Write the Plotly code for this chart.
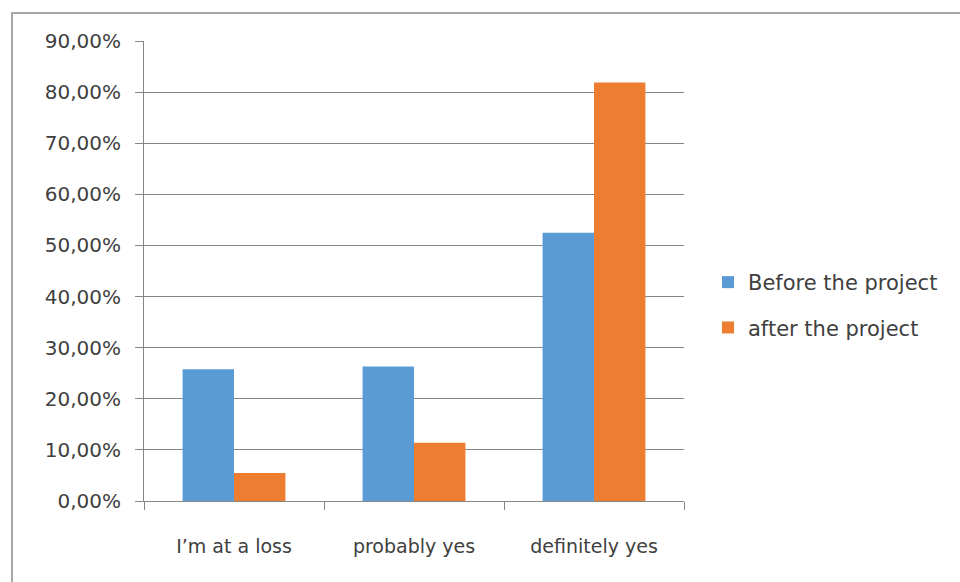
import plotly.graph_objects as go

# Survey answers, share of respondents (%)
categories = ["I\u2019m at a loss", "probably yes", "definitely yes"]
before_project = [25.8, 26.3, 52.5]
after_project = [5.5, 11.4, 81.9]

y_ticks = [0, 10, 20, 30, 40, 50, 60, 70, 80, 90]
y_tick_labels = [f"{v},00%" for v in y_ticks]

BLUE = "#5B9BD5"
ORANGE = "#ED7D31"
GRID = "#868686"
TEXT = "#404040"
FONT = "DejaVu Sans"

W, H = 960, 582
L, R, T, B = 144, 276, 41, 81

fig = go.Figure()
fig.add_trace(go.Bar(
    x=categories, y=before_project, name="Before the project",
    marker=dict(color=BLUE, line=dict(width=0)), legendgroup="a",
))
fig.add_trace(go.Bar(
    x=categories, y=after_project, name="after the project",
    marker=dict(color=ORANGE, line=dict(width=0)), legendgroup="b",
))


def px_to_paper(px, py):
    return (px - L) / (W - L - R), (H - B - py) / (H - T - B)


# thin frame around the chart area
x0, y0 = px_to_paper(12, 13)
x1, y1 = px_to_paper(W + 20, H + 20)
fig.add_shape(type="rect", xref="paper", yref="paper",
              x0=x0, y0=y1, x1=x1, y1=y0,
              line=dict(color="#A6A6A6", width=2), layer="below")

fig.update_layout(
    width=W, height=H,
    margin=dict(l=L, r=R, t=T, b=B, pad=0),
    paper_bgcolor="white", plot_bgcolor="white",
    barmode="group", bargap=0.4286, bargroupgap=0,
    font=dict(family=FONT, size=19, color=TEXT),
    legend=dict(
        xref="container", yref="container",
        x=708 / W, y=1 - 262 / H, xanchor="left", yanchor="top",
        font=dict(family=FONT, size=21, color=TEXT),
        tracegroupgap=15, bgcolor="rgba(0,0,0,0)",
    ),
    xaxis=dict(
        showgrid=False, showline=True, linecolor=GRID, linewidth=1,
        ticks="outside", tickson="boundaries", ticklen=8, tickcolor=GRID,
        tickfont=dict(family=FONT, size=19, color=TEXT),
        ticklabelstandoff=28,
    ),
    yaxis=dict(
        range=[0, 90], tickvals=y_ticks, ticktext=y_tick_labels,
        showgrid=True, gridcolor=GRID, gridwidth=1,
        showline=True, linecolor=GRID, linewidth=1,
        ticks="outside", ticklen=8, tickcolor=GRID,
        tickfont=dict(family=FONT, size=20, color=TEXT),
        ticklabelstandoff=10, zeroline=False,
    ),
)

fig.write_html("out.html")
